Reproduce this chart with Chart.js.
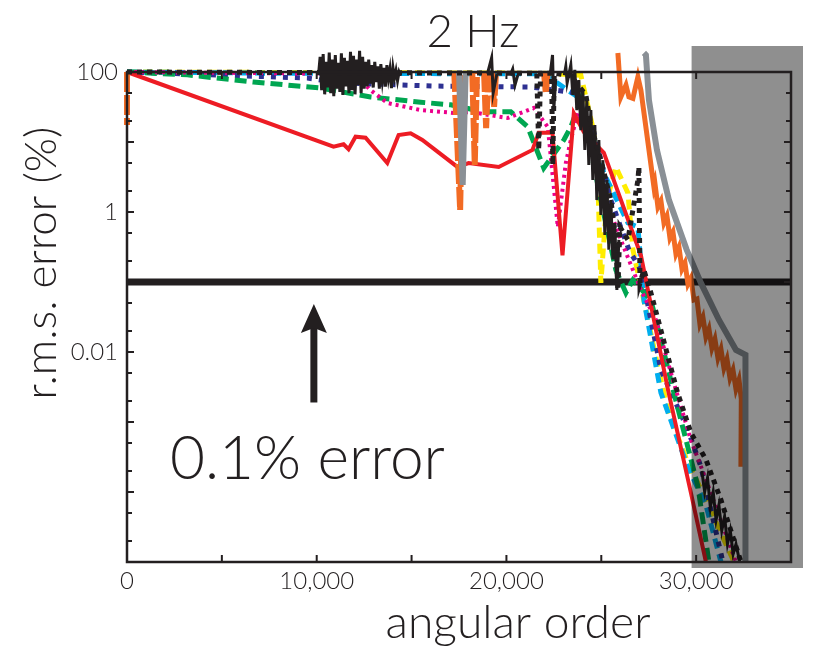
<!DOCTYPE html>
<html><head><meta charset="utf-8">
<script src="https://cdn.jsdelivr.net/npm/chart.js@4.4.1/dist/chart.umd.min.js"></script>
<style>html,body{margin:0;padding:0;background:#fff}</style>
</head><body>
<canvas id="c" width="814" height="649"></canvas>
<script>
// ---- texts / ticks ----
const titleText = '2 Hz';
const xAxisTitle = 'angular order';
const yAxisTitle = 'r.m.s. error (%)';
const annotationText = '0.1% error';
const xTickLabels = {0:'0', 10000:'10,000', 20000:'20,000', 30000:'30,000'};
const yTickValues = [100,50,20,10,5,2,1,0.5,0.2,0.1,0.05,0.02,0.01,0.005,0.002,0.001,5e-4,2e-4,1e-4,5e-5,2e-5,1e-5];
const yTickLabels = [[100,'100'],[1,'1'],[0.01,'0.01']];
const xRange = [0, 35000];
const yRange = [1e-5, 100];
const errorThreshold = 0.1;
const shadedStart = 29760;
const arrowX = 9850;
const arrowYs = [0.0485, 0.0019];

// ---- series: [angular order, r.m.s. error %] ----
const redSeries = [[0,100],[10886,8.6],[11414,9.3],[11678,7.9],[12047,11.9],[12575,11.5],[13720,5.0],[14316,12.6],[14950,13.3],[15567,10.7],[17414,4.4],[18010,5.0],[19593,4.4],[21372,7.7],[21704,13.6],[22427,13.6],[22955,0.24],[23552,25.7],[24080,13.9],[25136,7.0],[27089,0.24],[28514,0.0029],[29725,9.7e-5],[30516,1e-5]];
const yellowSeries = [[0,100],[22000,96],[23922,90],[24608,13.9],[24819,2.86],[24977,0.097],[25294,1.48],[25769,4.4],[26403,1.87],[26666,0.29],[27353,0.040],[27986,0.0061],[28514,0.0015],[29040,6.1e-4],[29567,2.6e-4],[30250,1.1e-4],[32000,1e-5]];
const cyanSeries = [[0,100],[8000,96],[22000,94],[23236,55],[23764,44],[24608,10.7],[25136,3.6],[26403,0.70],[26930,0.61],[27247,0.055],[28145,0.0026],[29551,2.3e-4],[30516,6.5e-5],[31308,1e-5]];
const navySeries = [[0,100],[9514,82],[11255,70],[16164,63],[21282,61],[23764,50],[24608,13.9],[25505,1.48],[26455,0.29],[27089,0.148],[28145,0.0055],[29567,7.7e-4],[30250,2.3e-4],[31413,1e-5]];
const greenSeries = [[0,100],[3182,91],[6665,72],[10201,59],[12839,44],[15478,37],[17060,34],[18802,27],[20227,27],[21124,16.4],[21968,4.25],[23025,10.7],[23394,16.4],[23922,40],[24977,1.48],[25769,0.148],[26297,0.070],[26666,0.107],[27617,0.055],[28831,0.0026],[30094,1.2e-4],[30674,1e-5]];
const magentaSeries = [[0,100],[12000,94],[12839,55],[13736,36],[15478,28.6],[17219,26],[18116,26.8],[20069,22],[21441,30.6],[22180,16.4],[22708,0.61],[23130,5.0],[23394,10.7],[23764,26],[24450,10.7],[25241,1.48],[26033,0.40],[27089,0.077],[27881,0.0287],[28778,0.0040],[29725,5.5e-4],[30516,1.5e-4],[32100,1e-5]];
const blackDottedSeries = [[0,100],[21600,96],[21704,7.7],[21800,96],[22380,96],[22444,4.7],[22520,96],[23394,88],[24186,47],[24450,17.5],[24977,5.5],[25505,1.48],[25769,0.40],[25875,0.077],[25980,0.61],[26403,0.40],[26930,2.86],[26983,4.4],[27040,0.097],[27247,0.148],[27617,0.070],[29024,0.0026],[29725,7e-4],[30516,2.9e-4],[31308,7.7e-5],[32364,1e-5]];
const blackNoiseSeries = [[10100,95],[10180,165],[10260,55],[10340,180],[10420,48],[10500,140],[10580,60],[10660,190],[10740,50],[10820,150],[10900,45],[10980,175],[11060,58],[11140,135],[11220,52],[11300,185],[11380,47],[11460,160],[11540,62],[11620,145],[11700,50],[11780,195],[11860,55],[11940,170],[12020,48],[12100,150],[12180,65],[12260,200],[12340,50],[12420,165],[12500,58],[12580,140],[12660,62],[12740,150],[12820,68],[12900,125],[12980,60],[13060,140],[13140,72],[13220,120],[13300,58],[13380,130],[13460,75],[13540,115],[13620,62],[13700,125],[13780,80],[13860,110],[13940,59],[14020,115],[14100,82],[14180,105],[14260,75],[14340,100],[14420,88],[14500,null],
 [19000,95],[19220,160],[19300,50],[19500,95],[19600,null],[20200,90],[20330,110],[20450,65],[20600,90],[20700,null],[22300,90],[22430,175],[22500,30],[22600,80],[22700,null],[23050,90],[23130,120],[23200,70],
 [23394,126],[23500,46.9],[23605,107],[23711,28.6],[23817,76.8],[23922,14.8],[24028,55.3],[24133,7.7],[24239,39.8],[24344,4.7],[24450,28.6],[24555,2.86],[24661,17.5],[24766,1.48],[24872,10.7],[24977,0.91],[25083,5.5],[25188,0.47],[25294,2.86],[25399,0.29],[25505,1.48],[25611,0.21],[25716,0.65],[25822,0.077],[25927,0.40],[26000,null],
 [30300,2e-4],[30450,1e-4],[30600,1.6e-4],[30750,6e-5],[30900,1e-4],[31050,4e-5],[31200,6.5e-5],[31350,2.8e-5],[31500,4.5e-5],[31650,1.8e-5],[31800,2.8e-5],[31950,1.3e-5],[32100,1.8e-5],[32300,1e-5]];
const orangeSpikeSeries = [[0,100],[0,17.5],[10,null],[17250,100],[17560,1.07],[17700,100],[17800,null],[18200,100],[18330,4.7],[18450,100],[18500,null],[18820,100],[18930,15.8],[19050,100],[19100,null],[19250,100],[19350,31.9],[19450,100],[19500,null],[21980,100],[22074,50],[22180,100]];
const orangeBandSeries = [[25875,187],[26033,44],[26300,65],[26455,44],[26666,42],[26930,85],[27089,55],[27775,2.28],
 [27826,2.60],[27986,1.18],[28145,1.44],[28303,0.70],[28461,0.877],[28620,0.425],[28778,0.518],[28936,0.251],[29094,0.316],[29253,0.153],[29411,0.187],[29567,0.0936],[29725,0.114],[29883,0.0553],[30042,0.0572],[30200,0.0251],[30356,0.0316],[30516,0.0164],[30674,0.0213],[30832,0.0114],[30990,0.0153],[31150,0.0082],[31308,0.0110],[31466,0.0059],[31625,0.0079],[31783,0.00425],[31941,0.00553],[32100,0.00296],[32258,0.0040],[32380,0.00213],[32360,2.3e-4]];
const graySeries = [[17500,100],[17694,2.43],[17850,100],[17900,null],[27247,187],[27353,175],[27511,39.8],[27933,7.7],[28567,1.48],[29498,0.29],[30250,0.097],[31203,0.0287],[32100,0.0107],[32600,0.0091],[32600,1e-5]];
const thresholdSeries = [[0,errorThreshold],[35000,errorThreshold]];

const INK = '#231F20';
const FONT = 'Lato, "Liberation Sans", sans-serif';

function mk(pts, color, width, dash) {
  return {
    data: pts.map(p => ({x: p[0], y: p[1]})),
    borderColor: color, borderWidth: width, borderDash: dash,
    pointRadius: 0, fill: false, tension: 0, clip: false, spanGaps: false
  };
}

const datasets = [
  mk(blackDottedSeries, INK, 5, [5,5]),
  mk(blackNoiseSeries, INK, 3, []),
  mk(graySeries, '#8A9096', 6, []),
  mk(orangeSpikeSeries, '#F26B24', 6, [20,3]),
  mk(orangeBandSeries, '#F26B24', 5, []),
  mk(redSeries, '#ED1C24', 4, []),
  mk(magentaSeries, '#EC008C', 4, [3,4]),
  mk(greenSeries, '#00A651', 5, [12,6]),
  mk(navySeries, '#2E3192', 5, [5,7]),
  mk(cyanSeries, '#00AEEF', 5, [10,6]),
  mk(yellowSeries, '#FFED00', 5, [10,6]),
  mk(thresholdSeries, INK, 7, [])
];

function fitText(ctx, text, x, y, width, size, align) {
  ctx.font = '300 ' + size + 'px ' + FONT;
  const w = ctx.measureText(text).width;
  const s = size * width / w;
  ctx.font = '300 ' + s + 'px ' + FONT;
  ctx.textAlign = align;
  ctx.textBaseline = 'alphabetic';
  ctx.fillText(text, x, y);
}

const decor = {
  id: 'decor',
  afterDatasetsDraw(chart) {
    const {ctx, chartArea: a, scales: {x}} = chart;
    ctx.save();
    ctx.fillStyle = 'rgba(0,0,0,0.44)';
    const l = x.getPixelForValue(shadedStart);
    ctx.fillRect(l, a.top - 26, a.right + 12 - l, a.bottom + 6 - (a.top - 26));
    ctx.restore();
  },
  afterDraw(chart) {
    const {ctx, chartArea: a, scales: {x, y}} = chart;
    ctx.save();
    ctx.strokeStyle = INK; ctx.fillStyle = INK;
    ctx.lineWidth = 2.5;
    ctx.strokeRect(a.left, a.top, a.right - a.left, a.bottom - a.top);
    ctx.lineWidth = 2;
    yTickValues.forEach(v => {
      const p = y.getPixelForValue(v);
      const dec = Math.abs(Math.log10(v) - Math.round(Math.log10(v))) < 1e-9;
      const len = dec ? 7 : 5;
      ctx.beginPath();
      ctx.moveTo(a.left, p); ctx.lineTo(a.left + len, p);
      ctx.moveTo(a.right, p); ctx.lineTo(a.right - len, p);
      ctx.stroke();
    });
    for (let v = xRange[0]; v <= xRange[1]; v += 5000) {
      const p = x.getPixelForValue(v);
      ctx.beginPath();
      ctx.moveTo(p, a.bottom); ctx.lineTo(p, a.bottom - 7);
      ctx.moveTo(p, a.top); ctx.lineTo(p, a.top + 7);
      ctx.stroke();
    }
    const ax = x.getPixelForValue(arrowX);
    const tip = y.getPixelForValue(arrowYs[0]);
    const base = y.getPixelForValue(arrowYs[1]);
    ctx.lineWidth = 7;
    ctx.beginPath(); ctx.moveTo(ax, base); ctx.lineTo(ax, tip + 20); ctx.stroke();
    ctx.beginPath();
    ctx.moveTo(ax, tip); ctx.lineTo(ax - 13, tip + 29); ctx.lineTo(ax, tip + 24); ctx.lineTo(ax + 13, tip + 29);
    ctx.closePath(); ctx.fill();
    fitText(ctx, titleText, 473, 47, 93, 46, 'center');
    fitText(ctx, annotationText, 170, 479, 275, 60, 'left');
    fitText(ctx, xAxisTitle, 518, 638, 265, 36, 'center');
    ctx.translate(56, 263);
    ctx.rotate(-Math.PI / 2);
    fitText(ctx, yAxisTitle, 0, 0, 273, 38, 'center');
    ctx.restore();
  }
};

new Chart(document.getElementById('c'), {
  type: 'line',
  data: {datasets},
  options: {
    responsive: false, animation: false, devicePixelRatio: 1,
    layout: {padding: {top: 72, right: 23, left: 0, bottom: 0}},
    plugins: {legend: {display: false}, tooltip: {enabled: false}, title: {display: false}},
    scales: {
      x: {
        type: 'linear', min: xRange[0], max: xRange[1],
        afterFit(s) { s.height = 87; },
        grid: {display: false, drawTicks: false}, border: {display: false},
        ticks: {stepSize: 5000, autoSkip: false, maxRotation: 0, padding: 5, color: INK,
          font: {family: FONT, size: 24, weight: '300'},
          callback: v => (xTickLabels[v] !== undefined ? xTickLabels[v] : '')}
      },
      y: {
        type: 'logarithmic', min: yRange[0], max: yRange[1],
        afterFit(s) { s.width = 127; },
        afterBuildTicks(s) { s.ticks = yTickValues.map(v => ({value: v})); },
        grid: {display: false, drawTicks: false}, border: {display: false},
        ticks: {autoSkip: false, padding: 9, color: INK, font: {family: FONT, size: 24, weight: '300'},
          callback: v => { const f = yTickLabels.find(t => Math.abs(t[0] - v) < t[0] * 1e-6); return f ? f[1] : ''; }}
      }
    }
  },
  plugins: [decor]
});
</script>
</body></html>
